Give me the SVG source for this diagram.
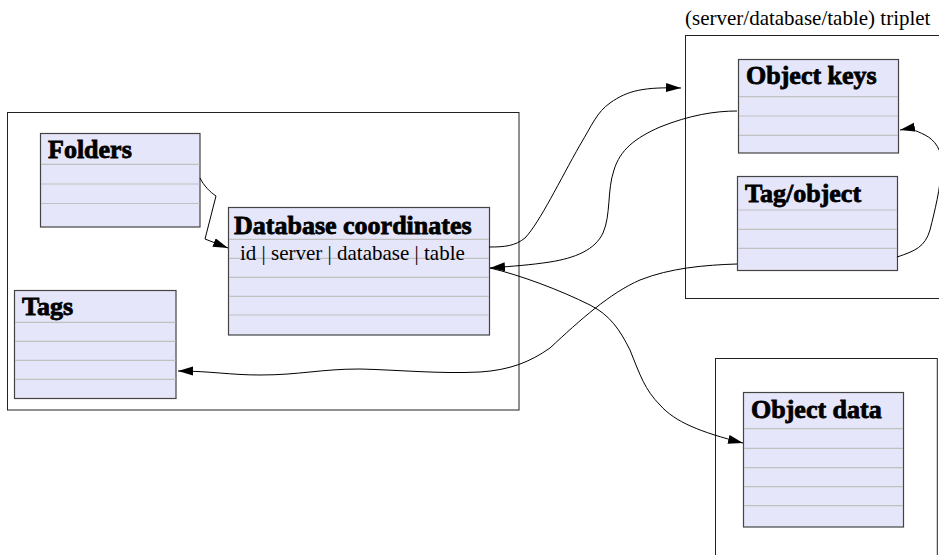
<svg xmlns="http://www.w3.org/2000/svg" width="939" height="555" viewBox="0 0 939 555">
<defs>
<marker id="arr" markerUnits="userSpaceOnUse" markerWidth="16" markerHeight="10" refX="15" refY="4.5" orient="auto">
<path d="M0,0 L15,4.5 L0,9 z" fill="#000"/>
</marker>
<style>
.cluster{fill:none;stroke:#222;stroke-width:1}
.box{fill:#e6e6fa;stroke:#444;stroke-width:1.2}
.sep{stroke:#c0c0c0;stroke-width:1.2}
.hdr{font-family:"Liberation Serif","Times New Roman",serif;font-weight:bold;font-size:26px;fill:#000;stroke:#000;stroke-width:0.8}
.txt{font-family:"Liberation Serif","Times New Roman",serif;font-size:21px;fill:#000}
.edge{fill:none;stroke:#000;stroke-width:1}
</style>
</defs>
<rect width="939" height="555" fill="#fff"/>

<g id="clusters">
<rect class="cluster" x="7.5" y="112.5" width="511.5" height="297.5"/>
<rect class="cluster" x="685.5" y="35.5" width="270" height="263"/>
<text class="txt" x="685" y="25">(server/database/table) triplet</text>
<rect class="cluster" x="715.5" y="358.5" width="221.8" height="220"/>
</g>

<g id="folders">
<rect class="box" x="40.5" y="133.5" width="159.5" height="93.5"/>
<line class="sep" x1="41" y1="164.3" x2="199.5" y2="164.3"/>
<line class="sep" x1="41" y1="184" x2="199.5" y2="184"/>
<line class="sep" x1="41" y1="203.5" x2="199.5" y2="203.5"/>
<text class="hdr" x="48" y="158">Folders</text>
</g>

<g id="dbcoords">
<rect class="box" x="228.5" y="207.5" width="261" height="127.5"/>
<line class="sep" x1="229" y1="239.3" x2="489" y2="239.3"/>
<line class="sep" x1="229" y1="258.3" x2="489" y2="258.3"/>
<line class="sep" x1="229" y1="277.3" x2="489" y2="277.3"/>
<line class="sep" x1="229" y1="296.3" x2="489" y2="296.3"/>
<line class="sep" x1="229" y1="315" x2="489" y2="315"/>
<text class="hdr" x="234" y="234">Database coordinates</text>
<text class="txt" x="240" y="260">id | server | database | table</text>
</g>

<g id="tags">
<rect class="box" x="14.5" y="290.5" width="161.5" height="108"/>
<line class="sep" x1="15" y1="322.3" x2="175.5" y2="322.3"/>
<line class="sep" x1="15" y1="341.3" x2="175.5" y2="341.3"/>
<line class="sep" x1="15" y1="360.3" x2="175.5" y2="360.3"/>
<line class="sep" x1="15" y1="379.3" x2="175.5" y2="379.3"/>
<text class="hdr" x="22" y="315">Tags</text>
</g>

<g id="objectkeys">
<rect class="box" x="738.5" y="59.5" width="160" height="93.5"/>
<line class="sep" x1="739" y1="96.7" x2="898" y2="96.7"/>
<line class="sep" x1="739" y1="116" x2="898" y2="116"/>
<line class="sep" x1="739" y1="135.3" x2="898" y2="135.3"/>
<text class="hdr" x="746" y="84">Object keys</text>
</g>

<g id="tagobject">
<rect class="box" x="737.5" y="176.5" width="160" height="94"/>
<line class="sep" x1="738" y1="210" x2="897" y2="210"/>
<line class="sep" x1="738" y1="229.3" x2="897" y2="229.3"/>
<line class="sep" x1="738" y1="248.3" x2="897" y2="248.3"/>
<text class="hdr" x="745" y="202">Tag/object</text>
</g>

<g id="objectdata">
<rect class="box" x="743.5" y="392.5" width="160" height="134.5"/>
<line class="sep" x1="744" y1="428.7" x2="903" y2="428.7"/>
<line class="sep" x1="744" y1="448.3" x2="903" y2="448.3"/>
<line class="sep" x1="744" y1="467.7" x2="903" y2="467.7"/>
<line class="sep" x1="744" y1="486.7" x2="903" y2="486.7"/>
<line class="sep" x1="744" y1="505.7" x2="903" y2="505.7"/>
<text class="hdr" x="751" y="418">Object data</text>
</g>

<g id="connectors">
<path class="edge" marker-end="url(#arr)" d="M200,178 C204,186 210,192 216,196 L205,239 L228,248"/>
<path class="edge" marker-end="url(#arr)" d="M489,247 C505,247 515,246 525,238 C540,222 560,180 580,145 C592,125 597,112 610,103 C628,90 645,87 681,88"/>
<path class="edge" marker-end="url(#arr)" d="M737,111 C715,111 690,115 660,127 C635,138 620,150 614,170 C607,190 611,215 603,233 C595,250 575,258 550,262 C530,265 515,266 490,268"/>
<path class="edge" marker-end="url(#arr)" d="M737,264 C705,265 670,268 640,280 C610,293 580,320 550,348 C530,362 510,370 480,372 C440,374 400,370 360,369 C320,369 300,375 260,375 C230,375 210,371 178,371"/>
<path class="edge" marker-end="url(#arr)" d="M897,257 C915,251 925,247 930,230 C935,210 940,190 942,165 C942,150 935,140 925,135 C915,130 910,128 900,130"/>
<path class="edge" marker-end="url(#arr)" d="M490,268 C520,275 560,290 590,305 C610,315 620,330 630,350 C640,375 645,390 660,405 C675,422 700,432 743,443"/>
</g>
</svg>
